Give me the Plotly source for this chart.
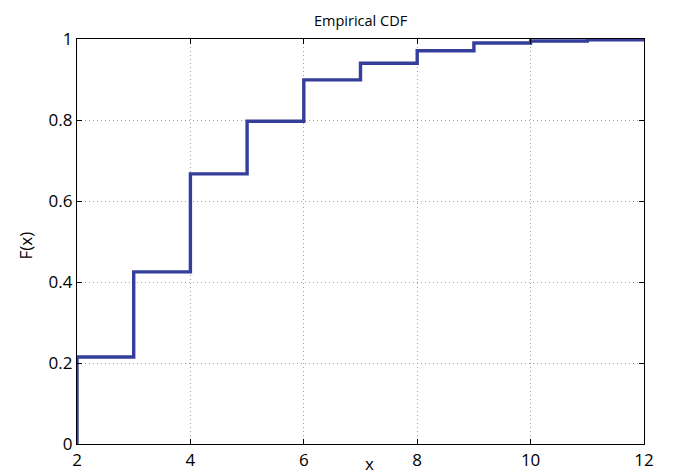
import plotly.graph_objects as go

x_vals = [2, 3, 4, 5, 6, 7, 8, 9, 10, 11, 12]
cdf_vals = [0.215, 0.425, 0.667, 0.797, 0.899, 0.940, 0.971, 0.990, 0.995, 0.998, 1.0]
x_ticks = [2, 4, 6, 8, 10, 12]
y_ticks = [0, 0.2, 0.4, 0.6, 0.8, 1]
y_tick_text = ["0", "0.2", "0.4", "0.6", "0.8", "1"]

xs = [x_vals[0]] + x_vals
ys = [0] + cdf_vals

font_family = "Open Sans, Noto Sans, DejaVu Sans, sans-serif"

fig = go.Figure()
fig.add_trace(go.Scatter(
    x=xs, y=ys, mode="lines", line_shape="hv",
    line=dict(color="#353f9b", width=3.4), showlegend=False,
))

axis_common = dict(
    showline=True, linecolor="black", linewidth=1.2, mirror="ticks",
    ticks="inside", ticklen=5, tickcolor="black", tickwidth=1,
    showgrid=True, gridcolor="#a0a0a0", griddash="1px,3px", gridwidth=1,
    zeroline=False, tickfont=dict(family=font_family, size=17, color="black"),
)

fig.update_xaxes(range=[2, 12], tickvals=x_ticks, **axis_common)
fig.update_yaxes(range=[0, 1], tickvals=y_ticks, ticktext=y_tick_text, **axis_common)

fig.update_layout(
    width=678, height=475,
    margin=dict(l=69, r=42, t=31, b=39),
    plot_bgcolor="white", paper_bgcolor="white",
    annotations=[
        dict(text="Empirical CDF", xref="paper", yref="paper", x=0.5, y=1, yshift=30,
             xanchor="center", yanchor="top", showarrow=False,
             font=dict(family=font_family, size=14.5, color="black")),
        dict(text="x", xref="paper", yref="paper", x=0.515, y=0, yshift=-19,
             xanchor="center", yanchor="middle", showarrow=False,
             font=dict(family=font_family, size=17, color="black")),
        dict(text="F(x)", xref="paper", yref="paper", x=0, xshift=-52, y=0.5, yshift=-4,
             xanchor="center", yanchor="middle", textangle=-90, showarrow=False,
             font=dict(family=font_family, size=17, color="black")),
    ],
)

fig.write_html("out.html")
